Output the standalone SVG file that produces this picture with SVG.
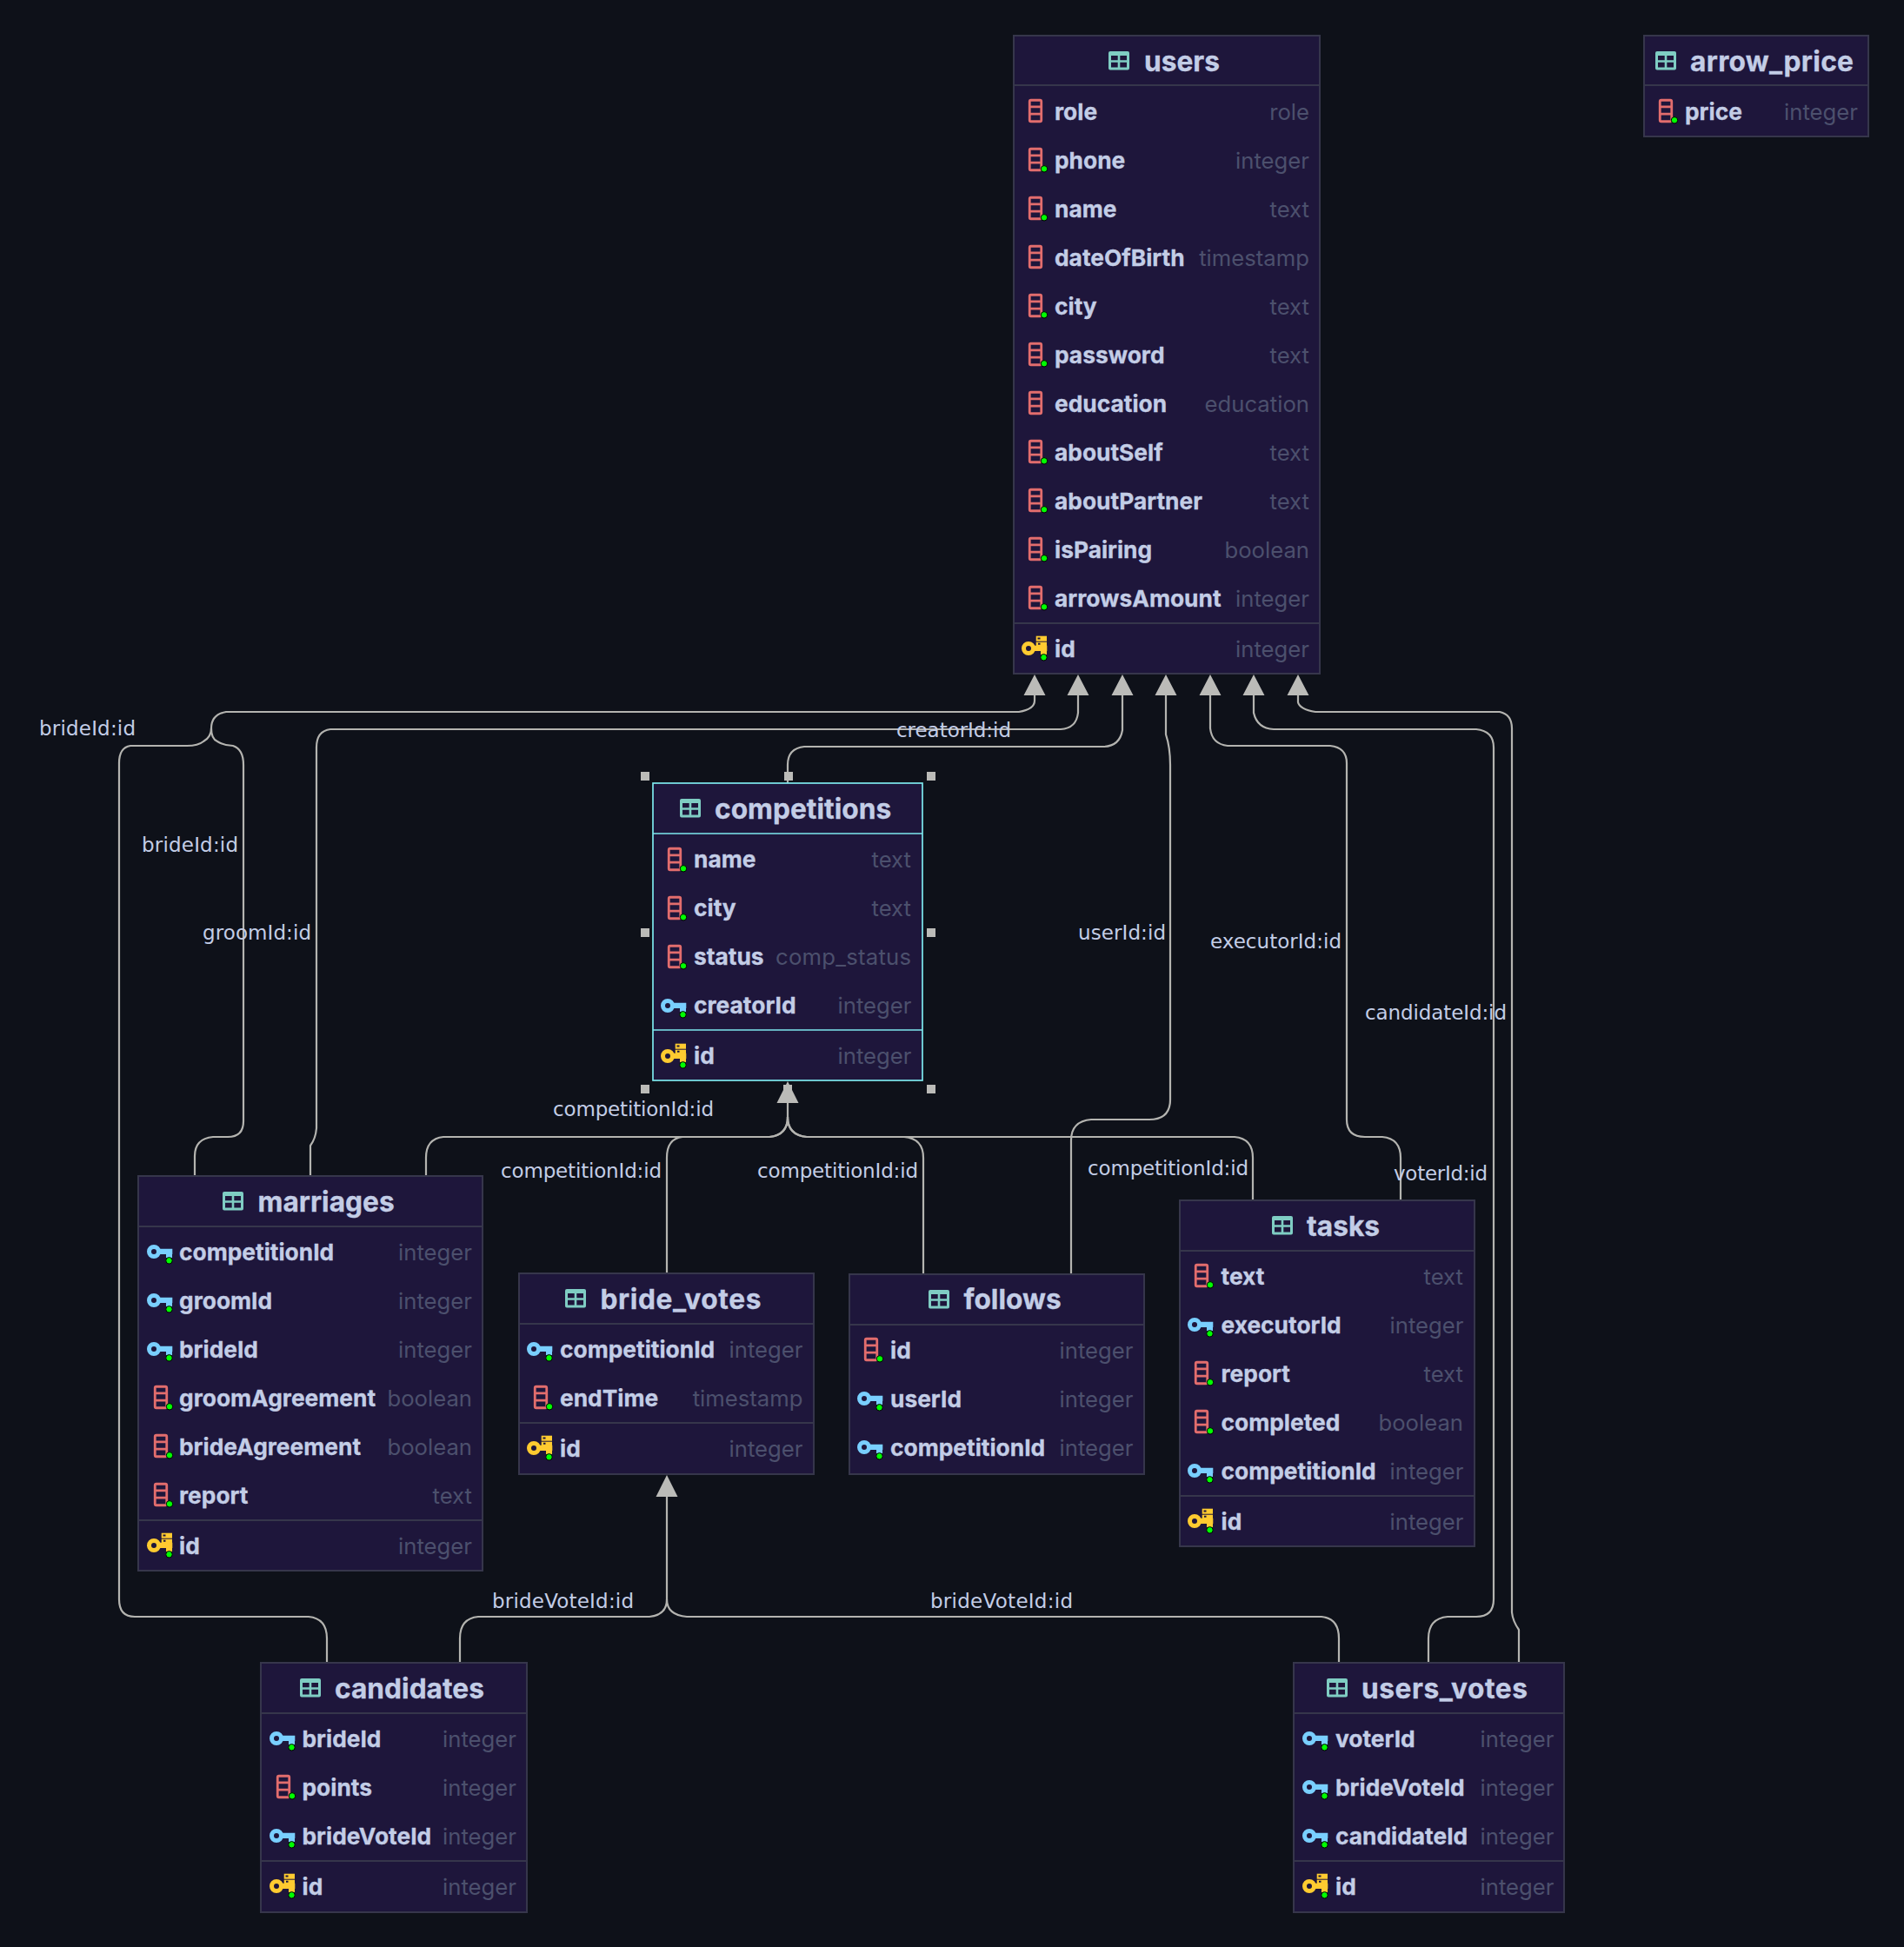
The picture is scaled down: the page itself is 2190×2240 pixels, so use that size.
<svg xmlns="http://www.w3.org/2000/svg" width="2190" height="2240" viewBox="0 0 2190 2240">
<style>
.bg{fill:#0e1119}
.box{fill:#1e163b;stroke:#36364b;stroke-width:2}
.sel{fill:#1e163b;stroke:#7de8ee;stroke-width:1.7}
.div{stroke:#36364b;stroke-width:2}
.divs{stroke:#7de8ee;stroke-width:1.7}
text{font-family:"Inter","Liberation Sans",sans-serif}
.h{font-size:31.7px;font-weight:700;fill:#c3cde6;stroke:#c3cde6;stroke-width:.3}
.n{font-size:26.35px;font-weight:700;fill:#c3cde6;stroke:#c3cde6;stroke-width:.3}
.t{font-size:25.7px;font-weight:400;fill:#4c506d;text-anchor:end}
.l{font-family:"DejaVu Sans",sans-serif;font-size:23px;fill:#c3cde6}
.e{fill:none;stroke:#b4b4b0;stroke-width:2.2}
.a{fill:#bbbbb8}
.hd{fill:#bbbbb8}
.dot{fill:#00ff00;stroke:#000;stroke-width:1}
</style>
<defs>
<path id="tb" fill="#7fcdc3" fill-rule="evenodd" d="M2 0H22Q24 0 24 2V19.5Q24 21.5 22 21.5H2Q0 21.5 0 19.5V2Q0 0 2 0ZM3 5V10.200H10.700V5ZM13.300 5V10.200H21V5ZM3 12.800V18.500H10.700V12.800ZM13.300 12.800V18.500H21V12.800Z"/>
<g id="col"><rect x="-28.75" y="-13.75" width="13.5" height="24.5" rx="1.5" fill="none" stroke="#e26d6d" stroke-width="2.8"/><path d="M-29 -6.2H-15M-29 2.2H-15" stroke="#e26d6d" stroke-width="2.8"/></g>
<g id="fk"><circle cx="-30" cy="-1" r="5.5" fill="none" stroke="#79cfff" stroke-width="5"/><path d="M-25 -4.200H-8.700V2H-9V6H-16V2H-25Z" fill="#79cfff"/></g>
<g id="pk"><circle cx="-30" cy="-1" r="5.5" fill="none" stroke="#ffcb30" stroke-width="5"/><path d="M-25 -4.200H-8.700V2H-9V6H-16V2H-25Z" fill="#ffcb30"/><rect x="-21.3" y="-15.3" width="12.3" height="6" fill="#ffcb30"/><rect x="-21.3" y="-8.3" width="12.3" height="4.6" fill="#ffcb30"/><path d="M-19.5 -12.5h3M-19 -6.2h2.5" stroke="#1e163b" stroke-width="2"/></g>
<g id="cd"><use href="#col"/><circle cx="-12" cy="9.3" r="3.7" class="dot"/></g>
<g id="fd"><use href="#fk"/><circle cx="-12.5" cy="9.3" r="3.7" class="dot"/></g>
<g id="pd"><use href="#pk"/><circle cx="-12.5" cy="9.3" r="3.7" class="dot"/></g>
</defs>
<rect class="bg" width="2190" height="2240"/>

<g id="connectors">
<path class="e" d="M1190 800V806Q1190 816 1172 819H260Q243 822 243 838Q243 848 234 853Q228 858 215 858H150Q137 860 137 878V1840Q137 1860 155 1860H355Q376 1862 376 1885V1913"/>
<path class="e" d="M243 838Q243 850 250 853Q258 858 268 858Q280 862 280 880V1290Q280 1308 262 1308H245Q224 1310 224 1330V1353"/>
<path class="e" d="M1240 800V820Q1238 838 1220 839H380Q364 841 364 860V1298Q363 1310 357 1318V1353"/>
<path class="e" d="M1291 800V840Q1288 858 1270 859H925Q906 861 906 880V901"/>
<path class="e" d="M1341 800V845Q1346 860 1346 880V1265Q1346 1288 1322 1288H1255Q1232 1290 1232 1312V1466"/>
<path class="e" d="M1392 800V838Q1394 856 1412 858H1530Q1549 860 1549 878V1288Q1549 1308 1570 1308H1590Q1611 1310 1611 1332V1381"/>
<path class="e" d="M1442 800V820Q1446 838 1465 839H1698Q1718 841 1718 860V1840Q1718 1860 1698 1860H1665Q1643 1862 1643 1885V1913"/>
<path class="e" d="M1493 800V808Q1495 816 1513 819H1725Q1739 822 1739 838V1855Q1740 1865 1747 1875V1913"/>
<path class="e" d="M906 1269V1285Q906 1306 885 1308H510Q490 1310 490 1332V1353"/>
<path class="e" d="M906 1285Q906 1306 885 1308H785Q767 1310 767 1332V1465"/>
<path class="e" d="M906 1285Q906 1306 928 1308H1040Q1062 1310 1062 1332V1466"/>
<path class="e" d="M906 1285Q906 1306 928 1308H1420Q1441 1310 1441 1332V1381"/>
<path class="e" d="M767 1722V1840Q767 1858 747 1860H550Q529 1862 529 1885V1913"/>
<path class="e" d="M767 1840Q767 1858 790 1860H1520Q1540 1862 1540 1885V1913"/>
<path class="a" d="M1190 776l12.500 24h-25zM1240 776l12.500 24h-25zM1291 776l12.500 24h-25zM1341 776l12.500 24h-25zM1392 776l12.500 24h-25zM1442 776l12.500 24h-25zM1493 776l12.500 24h-25zM906 1244l12.500 25h-25zM767 1697l12.500 25h-25z"/>
<text class="l" x="45" y="846" textLength="111">brideId:id</text>
<text class="l" x="163" y="980" textLength="111">brideId:id</text>
<text class="l" x="233" y="1081" textLength="125">groomId:id</text>
<text class="l" x="1031" y="848" textLength="132">creatorId:id</text>
<text class="l" x="1240" y="1081" textLength="101">userId:id</text>
<text class="l" x="1392" y="1091" textLength="151">executorId:id</text>
<text class="l" x="1570" y="1173" textLength="163">candidateId:id</text>
<text class="l" x="636" y="1284" textLength="185">competitionId:id</text>
<text class="l" x="576" y="1355" textLength="185">competitionId:id</text>
<text class="l" x="871" y="1355" textLength="185">competitionId:id</text>
<text class="l" x="1251" y="1352" textLength="185">competitionId:id</text>
<text class="l" x="1603" y="1358" textLength="108">voterId:id</text>
<text class="l" x="566" y="1850" textLength="163">brideVoteId:id</text>
<text class="l" x="1070" y="1850" textLength="164">brideVoteId:id</text>
</g>

<g id="users">
<rect class="box" x="1166" y="41" width="352" height="734"/><path class="div" d="M1166 98H1518M1166 717H1518"/>
<use href="#tb" x="1275" y="59"/><text class="h" x="1316" y="82">users</text>
<use href="#col" x="1213" y="129"/><text class="n" x="1213" y="138">role</text><text class="t" x="1506" y="138">role</text>
<use href="#cd" x="1213" y="185"/><text class="n" x="1213" y="194">phone</text><text class="t" x="1506" y="194">integer</text>
<use href="#cd" x="1213" y="241"/><text class="n" x="1213" y="250">name</text><text class="t" x="1506" y="250">text</text>
<use href="#col" x="1213" y="297"/><text class="n" x="1213" y="306">dateOfBirth</text><text class="t" x="1506" y="306">timestamp</text>
<use href="#cd" x="1213" y="353"/><text class="n" x="1213" y="362">city</text><text class="t" x="1506" y="362">text</text>
<use href="#cd" x="1213" y="409"/><text class="n" x="1213" y="418">password</text><text class="t" x="1506" y="418">text</text>
<use href="#col" x="1213" y="465"/><text class="n" x="1213" y="474">education</text><text class="t" x="1506" y="474">education</text>
<use href="#cd" x="1213" y="521"/><text class="n" x="1213" y="530">aboutSelf</text><text class="t" x="1506" y="530">text</text>
<use href="#cd" x="1213" y="577"/><text class="n" x="1213" y="586">aboutPartner</text><text class="t" x="1506" y="586">text</text>
<use href="#cd" x="1213" y="633"/><text class="n" x="1213" y="642">isPairing</text><text class="t" x="1506" y="642">boolean</text>
<use href="#cd" x="1213" y="689"/><text class="n" x="1213" y="698">arrowsAmount</text><text class="t" x="1506" y="698">integer</text>
<use href="#pd" x="1213" y="747"/><text class="n" x="1213" y="756">id</text><text class="t" x="1506" y="756">integer</text>
</g>

<g id="arrow_price">
<rect class="box" x="1891" y="41" width="258" height="116"/><path class="div" d="M1891 98H2149"/>
<use href="#tb" x="1904" y="59"/><text class="h" x="1944" y="82" textLength="188">arrow_price</text>
<use href="#cd" x="1938" y="129"/><text class="n" x="1938" y="138">price</text><text class="t" x="2137" y="138">integer</text>
</g>

<g id="competitions">
<path class="hd" d="M901 1248h10v10h-10z"/>
<rect class="sel" x="751" y="901" width="310" height="342"/><path class="divs" d="M751 959H1061M751 1185H1061"/>
<use href="#tb" x="782" y="919"/><text class="h" x="822" y="942">competitions</text>
<use href="#cd" x="798" y="990"/><text class="n" x="798" y="998">name</text><text class="t" x="1048" y="998">text</text>
<use href="#cd" x="798" y="1046"/><text class="n" x="798" y="1054">city</text><text class="t" x="1048" y="1054">text</text>
<use href="#cd" x="798" y="1102"/><text class="n" x="798" y="1110">status</text><text class="t" x="1048" y="1110" textLength="156">comp_status</text>
<use href="#fd" x="798" y="1158"/><text class="n" x="798" y="1166">creatorId</text><text class="t" x="1048.500" y="1166">integer</text>
<use href="#pd" x="798" y="1216"/><text class="n" x="798" y="1224">id</text><text class="t" x="1048.500" y="1224">integer</text>
<path class="hd" d="M737 888h10v10h-10zM902 888h10v10h-10zM1066 888h10v10h-10zM737 1068h10v10h-10zM1066 1068h10v10h-10zM737 1248h10v10h-10zM1066 1248h10v10h-10z"/>
</g>

<g id="marriages">
<rect class="box" x="159" y="1353" width="396" height="454"/><path class="div" d="M159 1411H555M159 1749H555"/>
<use href="#tb" x="256" y="1371"/><text class="h" x="296.500" y="1393.500">marriages</text>
<use href="#fd" x="207" y="1441"/><text class="n" x="206" y="1450">competitionId</text><text class="t" x="543" y="1450">integer</text>
<use href="#fd" x="207" y="1497"/><text class="n" x="206" y="1506">groomId</text><text class="t" x="543" y="1506">integer</text>
<use href="#fd" x="207" y="1553"/><text class="n" x="206" y="1562">brideId</text><text class="t" x="543" y="1562">integer</text>
<use href="#cd" x="207" y="1609"/><text class="n" x="206" y="1618">groomAgreement</text><text class="t" x="543" y="1618">boolean</text>
<use href="#cd" x="207" y="1665"/><text class="n" x="206" y="1674">brideAgreement</text><text class="t" x="543" y="1674">boolean</text>
<use href="#cd" x="207" y="1721"/><text class="n" x="206" y="1730">report</text><text class="t" x="543" y="1730">text</text>
<use href="#pd" x="207" y="1779"/><text class="n" x="206" y="1788">id</text><text class="t" x="543" y="1788">integer</text>
</g>

<g id="bride_votes">
<rect class="box" x="597" y="1465" width="339" height="231"/><path class="div" d="M597 1523H936M597 1637H936"/>
<use href="#tb" x="650" y="1483"/><text class="h" x="690.500" y="1506" textLength="185">bride_votes</text>
<use href="#fd" x="644" y="1553"/><text class="n" x="644" y="1562">competitionId</text><text class="t" x="923.500" y="1562">integer</text>
<use href="#cd" x="644" y="1609"/><text class="n" x="644" y="1618">endTime</text><text class="t" x="923.500" y="1618">timestamp</text>
<use href="#pd" x="644" y="1667"/><text class="n" x="644" y="1676">id</text><text class="t" x="923.500" y="1676">integer</text>
</g>

<g id="follows">
<rect class="box" x="977" y="1466" width="339" height="230"/><path class="div" d="M977 1524H1316"/>
<use href="#tb" x="1068" y="1484"/><text class="h" x="1108.500" y="1506">follows</text>
<use href="#cd" x="1024" y="1554"/><text class="n" x="1024" y="1563">id</text><text class="t" x="1303.500" y="1563">integer</text>
<use href="#fd" x="1024" y="1610"/><text class="n" x="1024" y="1619">userId</text><text class="t" x="1303.500" y="1619">integer</text>
<use href="#fd" x="1024" y="1666"/><text class="n" x="1024" y="1675">competitionId</text><text class="t" x="1303.500" y="1675">integer</text>
</g>

<g id="tasks">
<rect class="box" x="1357" y="1381" width="339" height="398"/><path class="div" d="M1357 1439H1696M1357 1721H1696"/>
<use href="#tb" x="1463" y="1399"/><text class="h" x="1503" y="1422">tasks</text>
<use href="#cd" x="1404" y="1469"/><text class="n" x="1404.500" y="1478">text</text><text class="t" x="1683" y="1478">text</text>
<use href="#fd" x="1404" y="1525"/><text class="n" x="1404.500" y="1534">executorId</text><text class="t" x="1683.500" y="1534">integer</text>
<use href="#cd" x="1404" y="1581"/><text class="n" x="1404.500" y="1590">report</text><text class="t" x="1683" y="1590">text</text>
<use href="#cd" x="1404" y="1637"/><text class="n" x="1404.500" y="1646">completed</text><text class="t" x="1683" y="1646">boolean</text>
<use href="#fd" x="1404" y="1693"/><text class="n" x="1404.500" y="1702">competitionId</text><text class="t" x="1683.500" y="1702">integer</text>
<use href="#pd" x="1404" y="1751"/><text class="n" x="1404.500" y="1760">id</text><text class="t" x="1683.500" y="1760">integer</text>
</g>

<g id="candidates">
<rect class="box" x="300" y="1913" width="306" height="287"/><path class="div" d="M300 1971H606M300 2141H606"/>
<use href="#tb" x="345" y="1931"/><text class="h" x="385" y="1954">candidates</text>
<use href="#fd" x="348" y="2001"/><text class="n" x="347.500" y="2010">brideId</text><text class="t" x="594" y="2010">integer</text>
<use href="#cd" x="348" y="2057"/><text class="n" x="347.500" y="2066">points</text><text class="t" x="594" y="2066">integer</text>
<use href="#fd" x="348" y="2113"/><text class="n" x="347.500" y="2122">brideVoteId</text><text class="t" x="594" y="2122">integer</text>
<use href="#pd" x="348" y="2171"/><text class="n" x="347.500" y="2180">id</text><text class="t" x="594" y="2180">integer</text>
</g>

<g id="users_votes">
<rect class="box" x="1488" y="1913" width="311" height="287"/><path class="div" d="M1488 1971H1799M1488 2141H1799"/>
<use href="#tb" x="1526" y="1931"/><text class="h" x="1566" y="1954" textLength="191">users_votes</text>
<use href="#fd" x="1536" y="2001"/><text class="n" x="1536" y="2010">voterId</text><text class="t" x="1787.500" y="2010">integer</text>
<use href="#fd" x="1536" y="2057"/><text class="n" x="1536" y="2066">brideVoteId</text><text class="t" x="1787.500" y="2066">integer</text>
<use href="#fd" x="1536" y="2113"/><text class="n" x="1536" y="2122">candidateId</text><text class="t" x="1787.500" y="2122">integer</text>
<use href="#pd" x="1536" y="2171"/><text class="n" x="1536" y="2180">id</text><text class="t" x="1787.500" y="2180">integer</text>
</g>
</svg>
